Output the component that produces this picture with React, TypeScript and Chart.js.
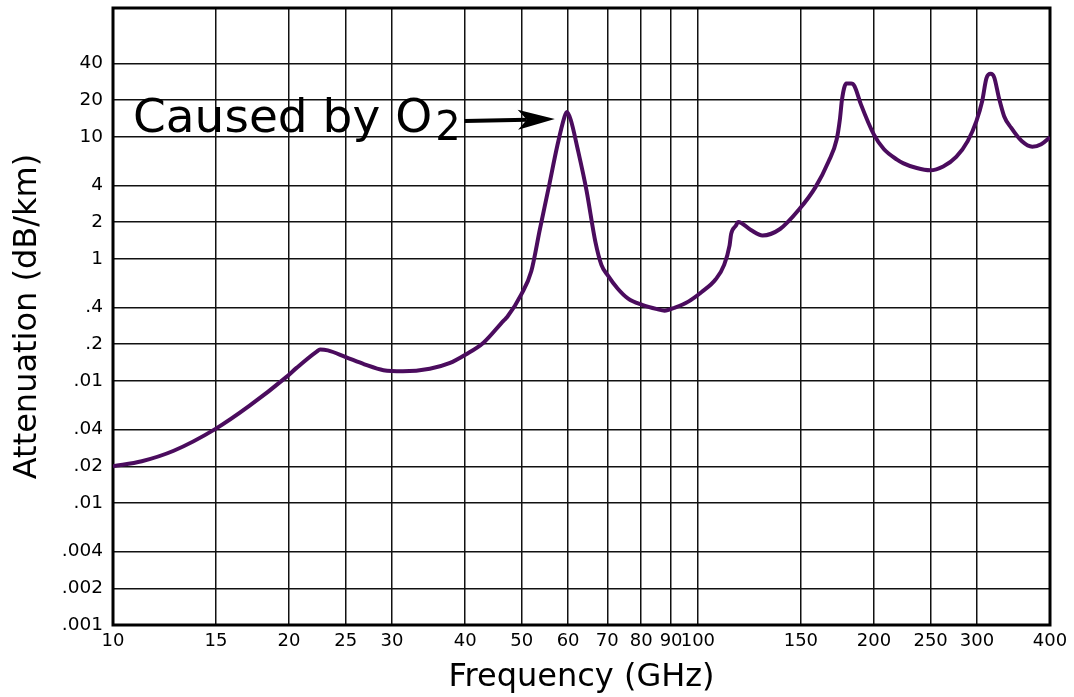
import { useEffect, useRef } from 'react';
import { Chart, registerables } from 'chart.js';

Chart.register(...registerables);

// ---- data ----
const frequencyGHz = [
  10, 11.2, 12.7, 15, 17.1, 19.8, 20.6, 22.3, 22.6, 23.3,
  25, 26.9, 29, 31.3, 34.8, 37.6, 40.1, 43, 46.6, 47.2,
  49.9, 51.9, 53.7, 55.6, 57.5, 59.1, 59.7, 60.6, 62.3, 64.5,
  66.8, 68.4, 70, 72.9, 76, 80.3, 85.2, 87.7, 91.4, 96.3,
  101.5, 107.2, 110.9, 113.3, 114, 116.1, 117.2, 123, 129, 138.2,
  148.9, 158.9, 167.2, 172.7, 174.9, 176.4, 179.4, 182.8, 185.2, 190,
  200, 207.9, 219, 224.7, 236.7, 249.7, 262.7, 276.5, 289.3, 299.4,
  306.3, 311.4, 316.7, 321.1, 327, 333.9, 343.2, 357.8, 373.1, 386.4,
  400,
];
const attenuationDbKm = [
  0.02, 0.022, 0.0268, 0.0407, 0.0624, 0.108, 0.128, 0.174, 0.181, 0.178,
  0.157, 0.137, 0.1225, 0.12, 0.126, 0.14, 0.165, 0.206, 0.314, 0.334,
  0.513, 0.793, 1.76, 3.88, 8.47, 14.4, 16.0, 13.9, 7.96, 3.65,
  1.38, 0.895, 0.744, 0.573, 0.473, 0.421, 0.388, 0.377, 0.4, 0.447,
  0.536, 0.678, 0.895, 1.295, 1.606, 1.87, 2.01, 1.736, 1.556, 1.76,
  2.54, 3.88, 6.27, 9.52, 13.9, 20.4, 27.4, 27.4, 26.2, 18.5,
  10.45, 7.96, 6.53, 6.08, 5.56, 5.33, 5.73, 6.86, 9.25, 13.5,
  19.7, 30.2, 32.9, 30.8, 21.1, 14.8, 11.9, 9.25, 8.31, 8.71,
  9.95,
];
const xTickValues = [10, 15, 20, 25, 30, 40, 50, 60, 70, 80, 90, 100, 150, 200, 250, 300, 400];
const xTickLabels = ['10', '15', '20', '25', '30', '40', '50', '60', '70', '80', '90', '100', '150', '200', '250', '300', '400'];
const yTickValues = [0.001, 0.002, 0.004, 0.01, 0.02, 0.04, 0.1, 0.2, 0.4, 1, 2, 4, 10, 20, 40];
const yTickLabels = ['.001', '.002', '.004', '.01', '.02', '.04', '.01', '.2', '.4', '1', '2', '4', '10', '20', '40'];
const xTitle = 'Frequency (GHz)';
const yTitle = 'Attenuation (dB/km)';
const noteText = 'Caused by O';
const noteSub = '2';

const W = 1074;
const H = 697;
const FONT = '"DejaVu Sans", Verdana, sans-serif';
const LINE_COLOR = '#4b0c5e';

const framePlugin = {
  id: 'frame',
  beforeDatasetsDraw(chart: any) {
    const { ctx, chartArea } = chart;
    ctx.save();
    ctx.strokeStyle = '#000';
    ctx.lineWidth = 3;
    ctx.strokeRect(chartArea.left, chartArea.top, chartArea.right - chartArea.left, chartArea.bottom - chartArea.top);
    ctx.restore();
  },
};

const notePlugin = {
  id: 'note',
  afterDraw(chart: any) {
    const { ctx, chartArea, scales } = chart;
    // peak below 100 GHz (the O2 line)
    let peak = 0;
    for (let i = 0; i < frequencyGHz.length; i++) {
      if (frequencyGHz[i] < 100 && attenuationDbKm[i] > attenuationDbKm[peak]) peak = i;
    }
    const px = scales.x.getPixelForValue(frequencyGHz[peak]);
    const py = scales.y.getPixelForValue(attenuationDbKm[peak]);
    const tipX = px - 12;
    const tipY = py + 7;

    ctx.save();
    ctx.fillStyle = '#000';
    ctx.strokeStyle = '#000';
    ctx.textBaseline = 'alphabetic';
    ctx.textAlign = 'left';
    const tx = chartArea.left + 20;
    const ty = chartArea.top + 124;
    ctx.font = `47px ${FONT}`;
    ctx.fillText(noteText, tx, ty);
    const w1 = ctx.measureText(noteText).width;
    ctx.font = `40px ${FONT}`;
    const sx0 = tx + w1 + 3;
    ctx.fillText(noteSub, sx0, ty + 8);
    const w2 = ctx.measureText(noteSub).width;

    const sx = sx0 + w2 + 4;
    const sy = ty - 11;
    const ang = Math.atan2(tipY - sy, tipX - sx);
    const dx = Math.cos(ang);
    const dy = Math.sin(ang);
    const L = 37;
    const HW = 10;
    const N = 28;
    ctx.lineWidth = 4;
    ctx.beginPath();
    ctx.moveTo(sx, sy);
    ctx.lineTo(tipX - N * dx, tipY - N * dy);
    ctx.stroke();
    ctx.beginPath();
    ctx.moveTo(tipX, tipY);
    ctx.lineTo(tipX - L * dx - HW * dy, tipY - L * dy + HW * dx);
    ctx.lineTo(tipX - N * dx, tipY - N * dy);
    ctx.lineTo(tipX - L * dx + HW * dy, tipY - L * dy - HW * dx);
    ctx.closePath();
    ctx.fill();
    ctx.restore();
  },
};

export default function App() {
  const ref = useRef<HTMLCanvasElement | null>(null);

  useEffect(() => {
    if (!ref.current) return;
    const chart = new Chart(ref.current, {
      type: 'line',
      data: {
        datasets: [
          {
            data: frequencyGHz.map((f, i) => ({ x: f, y: attenuationDbKm[i] })),
            borderColor: LINE_COLOR,
            borderWidth: 4,
            pointRadius: 0,
            cubicInterpolationMode: 'monotone',
            fill: false,
          },
        ],
      },
      options: {
        animation: false,
        responsive: false,
        devicePixelRatio: 1,
        layout: { padding: { top: 8, right: 24, left: 0, bottom: 0 } },
        plugins: { legend: { display: false }, tooltip: { enabled: false } },
        events: [],
        scales: {
          x: {
            type: 'logarithmic',
            min: 10,
            max: 400,
            afterFit: (s: any) => {
              s.height = 72;
              s.paddingLeft = 0;
              s.paddingRight = 0;
              s.paddingTop = 0;
              s.paddingBottom = 0;
            },
            afterBuildTicks: (s: any) => {
              s.ticks = xTickValues.map((v) => ({ value: v }));
            },
            ticks: {
              autoSkip: false,
              maxRotation: 0,
              minRotation: 0,
              padding: 6,
              color: '#000',
              font: { family: FONT, size: 18 },
              callback: (_v: any, i: number) => xTickLabels[i],
            },
            grid: { color: '#111', lineWidth: 1.5, drawTicks: false },
            border: { display: false },
            title: {
              display: true,
              text: xTitle,
              color: '#000',
              font: { family: FONT, size: 32 },
              padding: { top: 0, bottom: 0 },
            },
          },
          y: {
            type: 'logarithmic',
            min: 0.001,
            max: 114,
            afterFit: (s: any) => {
              s.width = 113;
              s.paddingLeft = 0;
              s.paddingRight = 0;
              s.paddingTop = 0;
              s.paddingBottom = 0;
            },
            afterBuildTicks: (s: any) => {
              s.ticks = yTickValues.map((v) => ({ value: v }));
            },
            ticks: {
              autoSkip: false,
              padding: 10,
              color: '#000',
              font: { family: FONT, size: 18.5 },
              callback: (_v: any, i: number) => yTickLabels[i],
            },
            grid: { color: '#111', lineWidth: 1.5, drawTicks: false },
            border: { display: false },
            title: {
              display: true,
              text: yTitle,
              color: '#000',
              font: { family: FONT, size: 32 },
              padding: { top: 8, bottom: 0 },
            },
          },
        },
      },
      plugins: [framePlugin, notePlugin],
    } as any);
    return () => chart.destroy();
  }, []);

  return (
    <canvas
      ref={ref}
      width={W}
      height={H}
      style={{ position: 'absolute', left: 0, top: 0, width: W, height: H, display: 'block', background: '#fff' }}
    />
  );
}
